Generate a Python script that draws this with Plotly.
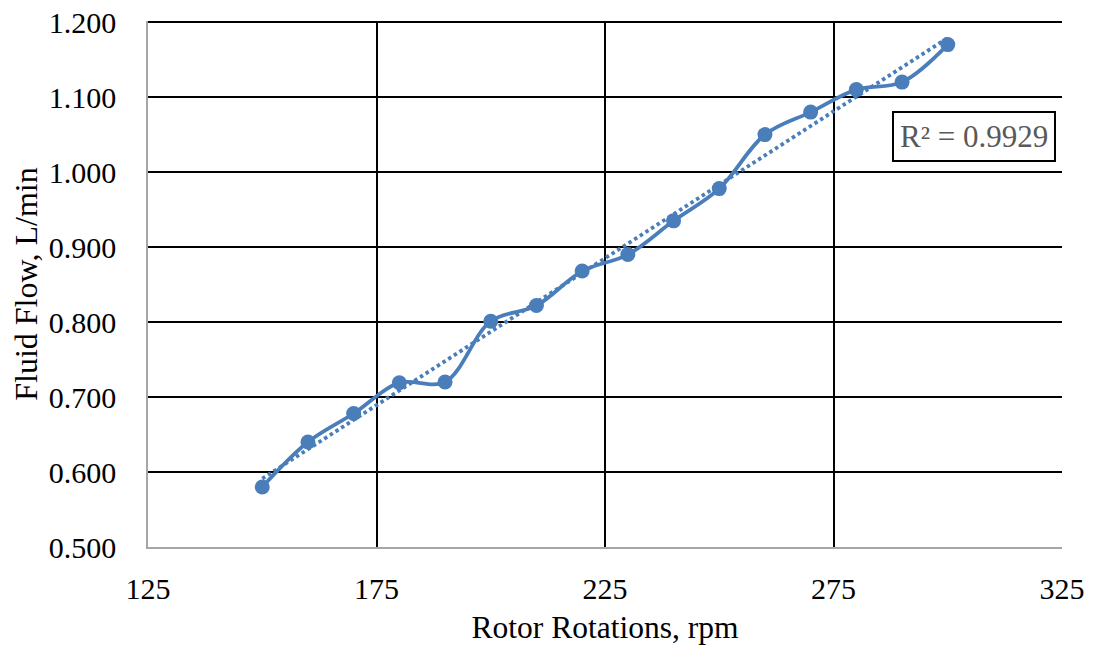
import numpy as np
import plotly.graph_objects as go

rpm = [150, 160, 170, 180, 190, 200, 210, 220, 230, 240, 250, 260, 270, 280, 290, 300]
flow = [0.580, 0.640, 0.678, 0.719, 0.720, 0.801, 0.822, 0.868, 0.890, 0.935,
        0.978, 1.050, 1.080, 1.110, 1.120, 1.170]
r2_label = "R² = 0.9929"

x_ticks = [125, 175, 225, 275, 325]
y_ticks = [0.5, 0.6, 0.7, 0.8, 0.9, 1.0, 1.1, 1.2]

color = "#4A7EBB"
font = "Liberation Serif, Times New Roman, serif"

slope, intercept = np.polyfit(rpm, flow, 1)
trend_x = [min(rpm), max(rpm)]
trend_y = [slope * v + intercept for v in trend_x]

fig = go.Figure()
fig.add_trace(go.Scatter(x=trend_x, y=trend_y, mode="lines",
                         line=dict(color=color, width=3.8, dash="3.5px,3.2px"),
                         showlegend=False, hoverinfo="skip"))
fig.add_trace(go.Scatter(x=rpm, y=flow, mode="lines+markers",
                         line=dict(color=color, width=3.8, shape="spline", smoothing=1),
                         marker=dict(color=color, size=15),
                         showlegend=False))

fig.add_annotation(text=r2_label, xref="paper", yref="paper", x=0.9934, y=0.781,
                   xanchor="right", yanchor="middle", showarrow=False,
                   font=dict(family=font, size=31, color="#595959"),
                   bordercolor="black", borderwidth=2, borderpad=6, bgcolor="white")

fig.update_layout(
    width=1087, height=643,
    margin=dict(l=140, r=33, t=13, b=104, pad=0, autoexpand=False),
    paper_bgcolor="white", plot_bgcolor="white",
    font=dict(family=font, color="black"),
)
fig.update_xaxes(range=[125, 325.0001], tickvals=x_ticks, ticktext=[str(v) for v in x_ticks],
                 showgrid=True, gridcolor="black", gridwidth=1.75,
                 showline=True, linecolor="#A6A6A6", linewidth=1.75, automargin=False,
                 zeroline=False, ticks="", ticklabelstandoff=14, ticklabeloverflow="allow",
                 tickfont=dict(size=30, family=font),
                 title=dict(text="Rotor Rotations, rpm", font=dict(size=31.5, family=font), standoff=12))
fig.update_yaxes(range=[0.5, 1.2015], tickvals=y_ticks, ticktext=[f"{v:.3f}" for v in y_ticks],
                 showgrid=True, gridcolor="black", gridwidth=1.75,
                 showline=True, linecolor="#A6A6A6", linewidth=1.75, automargin=False,
                 zeroline=False, ticks="", ticklabelstandoff=24, ticklabeloverflow="allow",
                 tickfont=dict(size=30, family=font),
                 title=dict(text="Fluid Flow, L/min", font=dict(size=32, family=font), standoff=10))

fig.write_html("out.html")
